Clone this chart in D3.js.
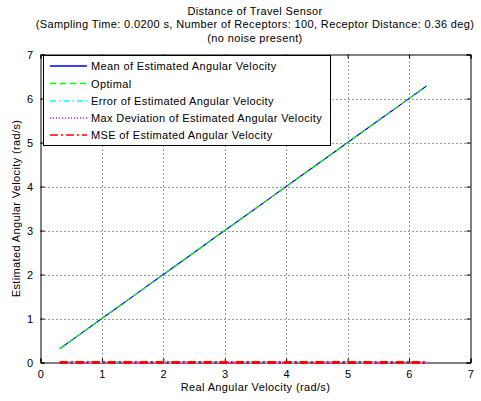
<!DOCTYPE html>
<html>
<head>
<meta charset="utf-8">
<script src="https://cdn.jsdelivr.net/npm/d3@7"></script>
<style>
  html, body { margin: 0; padding: 0; background: #fff; }
  svg { display: block; font-family: "Liberation Sans", Arial, Helvetica, sans-serif; }
  svg text { letter-spacing: 0.37px; }
</style>
</head>
<body>
<svg id="chart" width="481" height="401"></svg>
<script>
// Real angular velocity samples (rad/s)
const realVelocity = [0.314, 0.628, 0.942, 1.257, 1.571, 1.885, 2.199, 2.513, 2.827, 3.142,
                      3.456, 3.770, 4.084, 4.398, 4.712, 5.027, 5.341, 5.655, 5.969, 6.283];
// Mean of the estimated angular velocity
const meanEstimate = [0.314, 0.628, 0.942, 1.257, 1.571, 1.885, 2.199, 2.513, 2.827, 3.142,
                      3.456, 3.770, 4.084, 4.398, 4.712, 5.027, 5.341, 5.655, 5.969, 6.283];
// Optimal estimate (identity)
const optimal = [0.314, 0.628, 0.942, 1.257, 1.571, 1.885, 2.199, 2.513, 2.827, 3.142,
                 3.456, 3.770, 4.084, 4.398, 4.712, 5.027, 5.341, 5.655, 5.969, 6.283];
// Error, maximum deviation and MSE (no noise, all zero)
const errorEstimate = [0, 0, 0, 0, 0, 0, 0, 0, 0, 0, 0, 0, 0, 0, 0, 0, 0, 0, 0, 0];
const maxDeviation  = [0, 0, 0, 0, 0, 0, 0, 0, 0, 0, 0, 0, 0, 0, 0, 0, 0, 0, 0, 0];
const mseEstimate   = [0, 0, 0, 0, 0, 0, 0, 0, 0, 0, 0, 0, 0, 0, 0, 0, 0, 0, 0, 0];

const xTicks = [0, 1, 2, 3, 4, 5, 6, 7];
const yTicks = [0, 1, 2, 3, 4, 5, 6, 7];

const titleLines = [
  "Distance of Travel Sensor",
  "(Sampling Time: 0.0200 s, Number of Receptors: 100, Receptor Distance: 0.36 deg)",
  "(no noise present)"
];

const seriesDefs = [
  { name: "Mean of Estimated Angular Velocity", y: meanEstimate, color: "#0000ff", dash: null, width: 1.2 },
  { name: "Optimal", y: optimal, color: "#00ff00", dash: "6,4", width: 1.2 },
  { name: "Error of Estimated Angular Velocity", y: errorEstimate, color: "#00ffff", dash: "6,3,1.5,3", width: 2 },
  { name: "Max Deviation of Estimated Angular Velocity", y: maxDeviation, color: "#ff00ff", dash: "1,2", width: 2 },
  { name: "MSE of Estimated Angular Velocity", y: mseEstimate, color: "#ff0000", dash: "8,3,2,3", width: 3 }
];

const svg = d3.select("#chart");
const margin = { left: 40.5, right: 10.5, top: 54.5, bottom: 38.5 };
const W = 481, H = 401;
const x = d3.scaleLinear().domain([0, 7]).range([margin.left, W - margin.right]);
const y = d3.scaleLinear().domain([0, 7]).range([H - margin.bottom, margin.top]);

const fs = 11;

// Grid (dotted)
const grid = svg.append("g").attr("stroke", "#000").attr("stroke-width", 0.8)
  .attr("stroke-dasharray", "1,3");
xTicks.slice(1, -1).forEach(t => {
  const px = Math.round(x(t)) + 0.5;
  grid.append("line").attr("x1", px).attr("x2", px).attr("y1", y(0)).attr("y2", y(7));
});
yTicks.slice(1, -1).forEach(t => {
  const py = Math.round(y(t)) + 0.5;
  grid.append("line").attr("x1", x(0)).attr("x2", x(7)).attr("y1", py).attr("y2", py);
});

// Axes (box with inward ticks on all sides)
const tickLen = 4;
const axisG = svg.append("g");
axisG.append("g")
  .attr("transform", `translate(0,${y(0)})`)
  .call(d3.axisBottom(x).tickValues(xTicks).tickSize(-tickLen).tickPadding(8).tickFormat(d3.format("d")));
axisG.append("g")
  .attr("transform", `translate(0,${y(7)})`)
  .call(d3.axisTop(x).tickValues(xTicks).tickSize(-tickLen).tickFormat(""));
axisG.append("g")
  .attr("transform", `translate(${x(0)},0)`)
  .call(d3.axisLeft(y).tickValues(yTicks).tickSize(-tickLen).tickPadding(7).tickFormat(d3.format("d")));
axisG.append("g")
  .attr("transform", `translate(${x(7)},0)`)
  .call(d3.axisRight(y).tickValues(yTicks).tickSize(-tickLen).tickFormat(""));
axisG.selectAll(".domain").attr("stroke", "#000").attr("stroke-width", 1);
axisG.selectAll(".tick line").attr("stroke", "#000");
axisG.selectAll("text")
  .attr("font-family", "'Liberation Sans', Arial, sans-serif")
  .attr("font-size", fs).attr("fill", "#000");

// Data lines, drawn over the axes
const lineGen = d3.line().x((d, i) => x(realVelocity[i])).y(d => y(d));
seriesDefs.forEach(s => {
  svg.append("path")
    .datum(s.y)
    .attr("d", lineGen)
    .attr("fill", "none")
    .attr("stroke", s.color)
    .attr("stroke-width", s.width)
    .attr("stroke-dasharray", s.dash);
});

// Legend
const lg = svg.append("g");
const lx0 = 43.5, ly0 = 55.5, lw = 287, lh = 90;
lg.append("rect").attr("x", lx0).attr("y", ly0).attr("width", lw).attr("height", lh)
  .attr("fill", "#fff").attr("stroke", "#000").attr("stroke-width", 1);
const rowY = [66, 83.5, 101, 118, 135];
seriesDefs.forEach((s, i) => {
  lg.append("line").attr("x1", 50).attr("x2", 87).attr("y1", rowY[i]).attr("y2", rowY[i])
    .attr("stroke", s.color).attr("stroke-width", 1.6).attr("stroke-dasharray", s.dash);
  lg.append("text").attr("x", 91).attr("y", rowY[i] + 4)
    .attr("font-size", fs).attr("fill", "#000").text(s.name);
});

// Title
titleLines.forEach((t, i) => {
  svg.append("text").attr("x", 255).attr("y", 15 + i * 13.3)
    .attr("text-anchor", "middle").attr("font-size", fs).attr("fill", "#000").text(t);
});

// Axis labels
svg.append("text").attr("x", x(3.5)).attr("y", 391)
  .attr("text-anchor", "middle").attr("font-size", fs).text("Real Angular Velocity (rad/s)");
svg.append("text")
  .attr("transform", `translate(20,${(y(0) + y(7)) / 2}) rotate(-90)`)
  .attr("text-anchor", "middle").attr("font-size", fs).text("Estimated Angular Velocity (rad/s)");
</script>
</body>
</html>
